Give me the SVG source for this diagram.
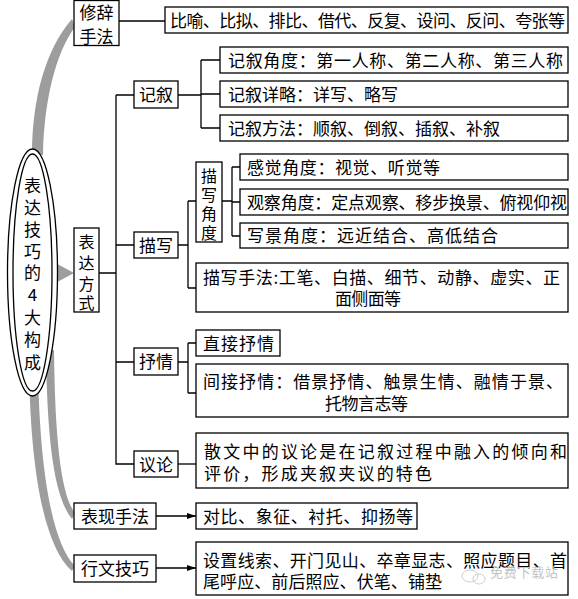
<svg xmlns="http://www.w3.org/2000/svg" width="578" height="599" viewBox="0 0 578 599">
<defs>
<style>
.b{fill:#fff;stroke:#000;stroke-width:1.3}
.t{font-family:"Noto Sans CJK SC","Noto Sans CJK JP",sans-serif;font-size:17px;fill:#000}
.v{font-size:16px}
.m{text-anchor:middle}
.c{fill:none;stroke:#000;stroke-width:1.3}
.g{fill:#9d9d9d}
.w{font-family:"Noto Sans CJK SC",sans-serif;font-size:13px;fill:#c4c4c4}
</style>
<marker id="ah" markerWidth="9" markerHeight="6" refX="9" refY="3" orient="auto" markerUnits="userSpaceOnUse">
<path d="M0,0 L9,3 L0,6 Z" fill="#000"/>
</marker>
</defs>
<rect width="578" height="599" fill="#fff"/>

<g id="gray-links">
<path class="g" d="M32,155 C32,100 45,50 72,19 L75,27 C56,52 44,100 43,155 Z"/>
<polygon class="g" points="48,259 74,273 48,287"/>
<path class="g" d="M46,350 C47,440 54,497 72,519 L75,513 C61,495 55,440 54,350 Z"/>
<path class="g" d="M29,370 C31,480 46,548 72,571 L75,566 C54,545 40,480 38,370 Z"/>
</g>

<g id="root">
<ellipse class="b" cx="32.5" cy="272.5" rx="25" ry="123.5"/>
<ellipse class="b" cx="32.5" cy="272.5" rx="19.5" ry="118.5"/>
<text class="t m" x="32.5" y="191.5">表</text>
<text class="t m" x="32.5" y="213.5">达</text>
<text class="t m" x="32.5" y="235.5">技</text>
<text class="t m" x="32.5" y="257.5">巧</text>
<text class="t m" x="32.5" y="278.5">的</text>
<text class="t m" x="32.5" y="301">4</text>
<text class="t m" x="32.5" y="323.5">大</text>
<text class="t m" x="32.5" y="345.5">构</text>
<text class="t m" x="32.5" y="368.5">成</text>
</g>

<g id="connectors">
<path class="c" d="M119,21 H165"/>
<path class="c" d="M99,273 H116 M116,95 V464 H134 M116,95 H134 M116,245 H134 M116,362 H134"/>
<path class="c" d="M178,95 H201 M201,60 V128 M201,60 H220 M201,94 H220 M201,128 H220"/>
<path class="c" d="M178,245 H188 M188,201 V288 M188,201 H196 M188,288 H196"/>
<path class="c" d="M222,201 H232 M232,167 V236 M232,167 H240 M232,202 H240 M232,236 H240"/>
<path class="c" d="M178,362 H188 M188,343 V393 M188,343 H196 M188,393 H196"/>
<path class="c" d="M178,464 H196"/>
<path class="c" d="M156,516 H196" marker-end="url(#ah)"/>
<path class="c" d="M156,568 H196" marker-end="url(#ah)"/>
</g>

<g id="xiuci">
<rect class="b" x="74" y="0.5" width="45" height="45"/>
<text class="t m" x="96.5" y="19">修辞</text>
<text class="t m" x="96.5" y="42.5">手法</text>
</g>
<g id="xiuci-list">
<rect class="b" x="165" y="7" width="403" height="26"/>
<text class="t" x="170" y="26.5" textLength="395" lengthAdjust="spacing">比喻、比拟、排比、借代、反复、设问、反问、夸张等</text>
</g>

<g id="biaoda">
<rect class="b" x="74" y="228" width="25" height="84"/>
<text class="t v m" x="86.5" y="248">表</text>
<text class="t v m" x="86.5" y="269">达</text>
<text class="t v m" x="86.5" y="289.5">方</text>
<text class="t v m" x="86.5" y="308.5">式</text>
</g>

<g id="jixu">
<rect class="b" x="134" y="81" width="44" height="27"/>
<text class="t m" x="156" y="101">记叙</text>
</g>
<g id="jixu-jiaodu">
<rect class="b" x="220" y="47" width="348" height="26"/>
<text class="t" x="228" y="66.5" textLength="335" lengthAdjust="spacing">记叙角度：第一人称、第二人称、第三人称</text>
</g>
<g id="jixu-xianglue">
<rect class="b" x="220" y="81" width="348" height="26"/>
<text class="t" x="228" y="100.5" textLength="170" lengthAdjust="spacing">记叙详略：详写、略写</text>
</g>
<g id="jixu-fangfa">
<rect class="b" x="220" y="115" width="348" height="26"/>
<text class="t" x="228" y="134.5" textLength="272" lengthAdjust="spacing">记叙方法：顺叙、倒叙、插叙、补叙</text>
</g>

<g id="miaoxie">
<rect class="b" x="134" y="232" width="44" height="26"/>
<text class="t m" x="156" y="251.5">描写</text>
</g>
<g id="miaoxie-jiaodu">
<rect class="b" x="196" y="162" width="26" height="80"/>
<text class="t v m" x="209" y="181.5">描</text>
<text class="t v m" x="209" y="201">写</text>
<text class="t v m" x="209" y="220">角</text>
<text class="t v m" x="209" y="238.5">度</text>
</g>
<g id="ganjue">
<rect class="b" x="240" y="154" width="328" height="26"/>
<text class="t" x="247" y="173.5" textLength="193" lengthAdjust="spacing">感觉角度：视觉、听觉等</text>
</g>
<g id="guancha">
<rect class="b" x="240" y="189" width="328" height="26"/>
<text class="t" x="247" y="208.5" textLength="320" lengthAdjust="spacing">观察角度：定点观察、移步换景、俯视仰视</text>
</g>
<g id="xiejing">
<rect class="b" x="240" y="223" width="328" height="25"/>
<text class="t" x="247" y="242" textLength="251" lengthAdjust="spacing">写景角度：远近结合、高低结合</text>
</g>
<g id="miaoxie-shoufa">
<rect class="b" x="196" y="263" width="372" height="49"/>
<text class="t" x="203" y="283.5" textLength="357" lengthAdjust="spacing">描写手法:工笔、白描、细节、动静、虚实、正</text>
<text class="t" x="335" y="304.5" textLength="66" lengthAdjust="spacing">面侧面等</text>
</g>

<g id="shuqing">
<rect class="b" x="134" y="348" width="44" height="27"/>
<text class="t m" x="156" y="368">抒情</text>
</g>
<g id="zhijie">
<rect class="b" x="196" y="330" width="84" height="26"/>
<text class="t" x="203" y="349.5" textLength="71" lengthAdjust="spacing">直接抒情</text>
</g>
<g id="jianjie">
<rect class="b" x="196" y="364" width="372" height="53"/>
<text class="t" x="203" y="387.5" textLength="360" lengthAdjust="spacing">间接抒情：借景抒情、触景生情、融情于景、</text>
<text class="t" x="325" y="409.5" textLength="83" lengthAdjust="spacing">托物言志等</text>
</g>

<g id="yilun">
<rect class="b" x="134" y="451" width="44" height="26"/>
<text class="t m" x="156" y="470.5">议论</text>
</g>
<g id="yilun-text">
<rect class="b" x="196" y="433" width="372" height="55"/>
<text class="t" x="204" y="457.5" textLength="363" lengthAdjust="spacing">散文中的议论是在记叙过程中融入的倾向和</text>
<text class="t" x="204" y="479.5" textLength="228" lengthAdjust="spacing">评价，形成夹叙夹议的特色</text>
</g>

<g id="biaoxian">
<rect class="b" x="74" y="503" width="82" height="26"/>
<text class="t m" x="115" y="522.5">表现手法</text>
</g>
<g id="biaoxian-list">
<rect class="b" x="196" y="503" width="221" height="26"/>
<text class="t" x="203" y="522.5" textLength="210" lengthAdjust="spacing">对比、象征、衬托、抑扬等</text>
</g>

<g id="xingwen">
<rect class="b" x="74" y="555" width="82" height="27"/>
<text class="t m" x="115" y="575">行文技巧</text>
</g>
<g id="xingwen-list">
<rect class="b" x="196" y="542" width="372" height="53"/>
<text class="t" x="203" y="566.5" textLength="364" lengthAdjust="spacing">设置线索、开门见山、卒章显志、照应题目、首</text>
<text class="t" x="203" y="587.5" textLength="239" lengthAdjust="spacing">尾呼应、前后照应、伏笔、铺垫</text>
</g>

<g id="watermark">
<ellipse cx="470" cy="576" rx="8" ry="6" fill="none" stroke="#cfcfcf" stroke-width="1"/>
<ellipse cx="479" cy="579" rx="6" ry="5" fill="none" stroke="#cfcfcf" stroke-width="1"/>
<text class="w" x="490" y="577" textLength="68" lengthAdjust="spacing">免费下载站</text>
</g>
</svg>
